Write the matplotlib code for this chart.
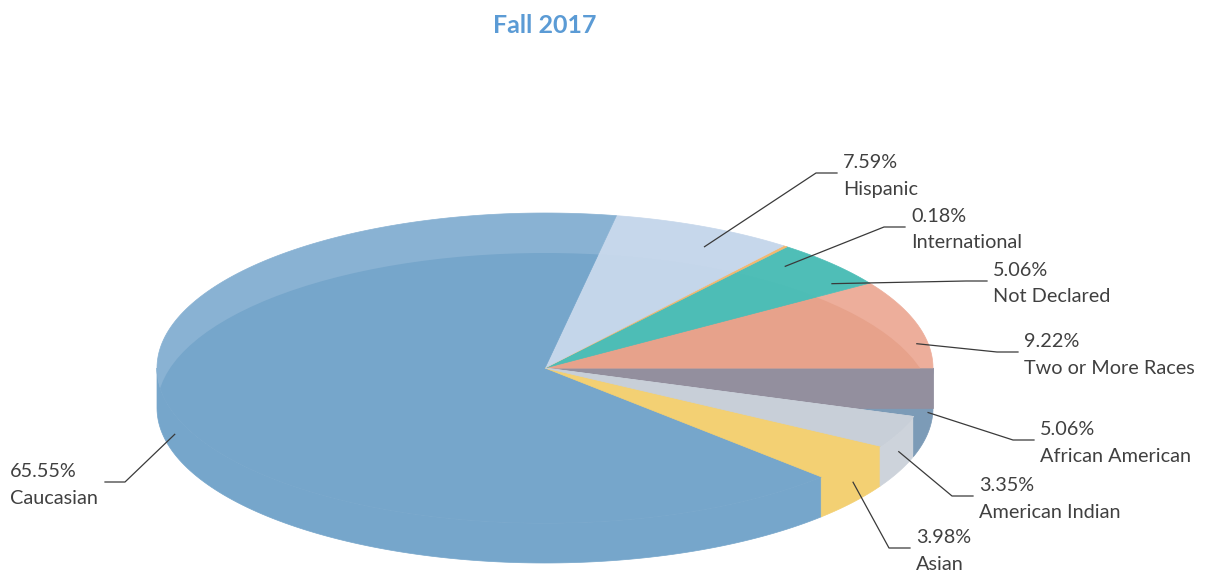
import numpy as np
import matplotlib.pyplot as plt
from matplotlib.patches import Polygon, Ellipse

# Fall 2017 enrollment by ethnicity, counter-clockwise from 3 o'clock
categories = ["Two or More Races", "Not Declared", "International", "Hispanic",
              "Caucasian", "Asian", "American Indian", "African American"]
percents = [9.22, 5.06, 0.18, 7.59, 65.55, 3.98, 3.35, 5.06]

top_colors = ["#E7A28B", "#4DBDB6", "#F4B870", "#C4D6EA",
              "#76A6CB", "#F3D073", "#C8CFD8", "#7C9BB7"]
rim_colors = ["#EDAE9B", "#4FBEB7", "#F4B870", "#C6D7EB",
              "#89B2D3", "#F3D073", "#C8CFD8", "#7C9BB7"]
wall_colors = ["#EDAE9B", "#4DBDB6", "#F4B870", "#C4D6EA",
               "#76A6CB", "#F3D073", "#CDD3DB", "#7C9BB7"]
cut_color = "#938F9E"

# label text positions (left x, first-line baseline) in pixels
label_pos = [(1024, 347), (993, 276), (911, 222), (843, 168),
             (10, 477), (916, 543), (979, 491), (1040, 435)]

CX, CY = 545, 368
RX, RY = 388, 155
DEPTH = 40

fig = plt.figure(figsize=(12.1, 5.76), dpi=100)
ax = fig.add_axes([0, 0, 1, 1])
ax.set_xlim(0, 1210)
ax.set_ylim(576, 0)
ax.axis("off")


def rim(t):
    return CX + RX * np.cos(t), CY - RY * np.sin(t)


frac = np.array(percents) / sum(percents)
bounds = np.concatenate([[0], np.cumsum(frac)]) * 2 * np.pi

# outer walls on the front half
for i in range(len(percents)):
    lo, hi = max(bounds[i], np.pi), min(bounds[i + 1], 2 * np.pi)
    if hi <= lo:
        continue
    ts = np.linspace(lo, hi, 120)
    x, y = rim(ts)
    pts = np.column_stack([np.concatenate([x, x[::-1]]),
                           np.concatenate([y, y[::-1] + DEPTH])])
    ax.add_patch(Polygon(pts, closed=True, fc=wall_colors[i], ec=wall_colors[i], lw=0.5, zorder=1))


def top_face(i, z):
    ts = np.linspace(bounds[i], bounds[i + 1], 200)
    x, y = rim(ts)
    pts = np.column_stack([np.concatenate([[CX], x]), np.concatenate([[CY], y])])
    ax.add_patch(Polygon(pts, closed=True, fc=rim_colors[i], ec=rim_colors[i], lw=0.5, zorder=z))
    inner = Ellipse((CX, CY + DEPTH), 2 * RX, 2 * RY, transform=ax.transData)
    p = Polygon(pts, closed=True, fc=top_colors[i], ec=top_colors[i], lw=0.5, zorder=z + 0.1)
    ax.add_patch(p)
    p.set_clip_path(inner)


# last slice first, then the radial face along 0 degrees, then the rest
last = len(percents) - 1
top_face(last, 2)
x0, _ = rim(0)
ax.add_patch(Polygon([(CX, CY), (x0, CY), (x0, CY + DEPTH), (CX, CY + DEPTH)],
                     closed=True, fc=cut_color, ec=cut_color, lw=0.5, zorder=3))
for i in range(last):
    top_face(i, 4)

# leader lines and labels
text_kw = dict(fontsize=14.3, color="#404040", family=["Lato", "DejaVu Sans"])
for i, name in enumerate(categories):
    mid = (bounds[i] + bounds[i + 1]) / 2
    ax_, ay_ = rim(mid)
    ay_ += DEPTH / 2
    tx, ty = label_pos[i]
    ym = ty + 5
    if tx < CX:
        ex = 125
        xs = [ax_, ex, ex - 20]
    else:
        xs = [ax_, tx - 27, tx - 6]
    ax.plot(xs, [ay_, ym, ym], color="#3A3A3A", lw=0.9, zorder=10)
    ax.text(tx, ty, f"{percents[i]:.2f}%", ha="left", va="baseline", **text_kw)
    ax.text(tx, ty + 26.5, name, ha="left", va="baseline", **text_kw)

ax.text(545, 33, "Fall 2017", ha="center", va="baseline", fontsize=18,
        fontweight="bold", color="#5B9BD5", family=["Lato", "DejaVu Sans"])

fig.savefig("out.png", dpi=100)
